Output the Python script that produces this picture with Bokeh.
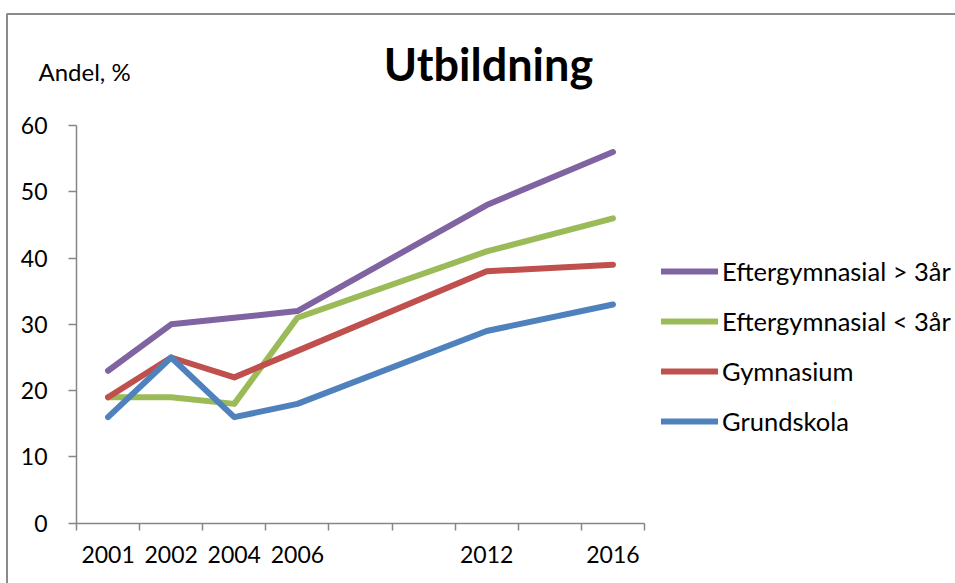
from bokeh.plotting import figure
from bokeh.models import FixedTicker, Legend, LegendItem, Label, Range1d, BoxAnnotation
from bokeh.embed import file_html
from bokeh.resources import INLINE

# ---- data ----
years = ["2001", "2002", "2004", "2006", "", "", "2012", "", "2016"]
series_names = ["Eftergymnasial > 3år", "Eftergymnasial < 3år", "Gymnasium", "Grundskola"]
eft_over3 = [23, 30, 31, 32, None, None, 48, None, 56]
eft_under3 = [19, 19, 18, 31, None, None, 41, None, 46]
gymnasium = [19, 25, 22, 26, None, None, 38, None, 39]
grundskola = [16, 25, 16, 18, None, None, 29, None, 33]
y_ticks = [0, 10, 20, 30, 40, 50, 60]
colors = ["#8064A2", "#9BBB59", "#C0504D", "#4F81BD"]
title_text = "Utbildning"
y_title = "Andel, %"

FONT = "Lato"
AX = "#868686"

# ---- layout (pixels on the canvas) ----
W, H = 955, 583
AX_LEFT, AX_RIGHT = 76.0, 644.0      # canvas x of category axis ends
AX_TOP, AX_BOTTOM = 125.0, 522.7     # canvas y of value 60 and 0
n = len(years)
ux = (AX_RIGHT - AX_LEFT) / n
x0 = 0.5 - AX_LEFT / ux
x1 = x0 + W / ux
uy = (AX_BOTTOM - AX_TOP) / (y_ticks[-1] - y_ticks[0])
y1 = y_ticks[-1] + AX_TOP / uy
y0 = y_ticks[0] - (H - AX_BOTTOM) / uy


def px_to_x(px):
    return x0 + px / ux


def py_to_y(py):
    return y1 - py / uy


p = figure(width=W, height=H, output_backend="svg", toolbar_location=None,
           x_range=Range1d(x0, x1), y_range=Range1d(y0, y1),
           min_border_left=0, min_border_right=0, min_border_top=0,
           min_border_bottom=0)
p.outline_line_color = None
p.xgrid.grid_line_color = None
p.ygrid.grid_line_color = None
p.background_fill_color = "white"
p.border_fill_color = "white"

# chart-area border (only left and top edges fall inside the picture)
p.add_layout(BoxAnnotation(left=px_to_x(6.5), right=px_to_x(W + 20),
                           top=py_to_y(13.5), bottom=py_to_y(H + 20),
                           fill_alpha=0, line_color="#8a8a8a", line_alpha=1.0,
                           line_width=2))

all_series = [eft_over3, eft_under3, gymnasium, grundskola]
renderers = []
for vals, col in zip(all_series, colors):
    xs = [i + 1 for i, v in enumerate(vals) if v is not None]
    ys = [v for v in vals if v is not None]
    r = p.line(xs, ys, line_color=col, line_width=6, line_cap="round", line_join="round")
    renderers.append(r)

# x axis
major = [i + 1 for i, y in enumerate(years) if y]
minor = [i + 0.5 for i in range(n + 1)]
xa = p.xaxis[0]
xa.fixed_location = y_ticks[0]
xa.bounds = (0.5, n + 0.5)
xa.ticker = FixedTicker(ticks=major, minor_ticks=minor)
xa.major_label_overrides = {i + 1: y for i, y in enumerate(years) if y}
xa.major_tick_line_color = None
xa.minor_tick_line_color = AX
xa.minor_tick_line_width = 1.5
xa.minor_tick_in = 0
xa.minor_tick_out = 7
xa.axis_line_color = AX
xa.axis_line_width = 1.5
xa.major_label_standoff = 16
xa.major_label_text_font = FONT
xa.major_label_text_font_size = "23px"
xa.major_label_text_color = "black"

# y axis
ya = p.yaxis[0]
ya.fixed_location = 0.5
ya.bounds = (y_ticks[0], y_ticks[-1])
ya.ticker = FixedTicker(ticks=y_ticks, minor_ticks=[])
ya.major_tick_line_color = AX
ya.major_tick_line_width = 1.5
ya.major_tick_in = 0
ya.major_tick_out = 8
ya.axis_line_color = AX
ya.axis_line_width = 1.5
ya.major_label_standoff = 21
ya.major_label_text_font = FONT
ya.major_label_text_font_size = "23px"
ya.major_label_text_color = "black"

# legend
items = [LegendItem(label=nm, renderers=[r]) for nm, r in zip(series_names, renderers)]
legend = Legend(items=items, location=(661, 147), orientation="vertical",
                glyph_width=57, glyph_height=20, label_height=20, spacing=20,
                label_standoff=4, padding=0, margin=0,
                border_line_color=None, background_fill_alpha=0,
                label_text_font=FONT, label_text_font_size="25.5px",
                label_text_color="black")
p.add_layout(legend, "center")

# titles
p.add_layout(Label(x=px_to_x(488), y=py_to_y(63), text=title_text, text_font=FONT,
                   text_font_size="45px", text_font_style="bold",
                   text_align="center", text_baseline="middle", text_color="black"))
p.add_layout(Label(x=px_to_x(38), y=py_to_y(71), text=y_title, text_font=FONT,
                   text_font_size="24px", text_align="left",
                   text_baseline="middle", text_color="black"))

open("out.html", "w").write(file_html(p, INLINE))
